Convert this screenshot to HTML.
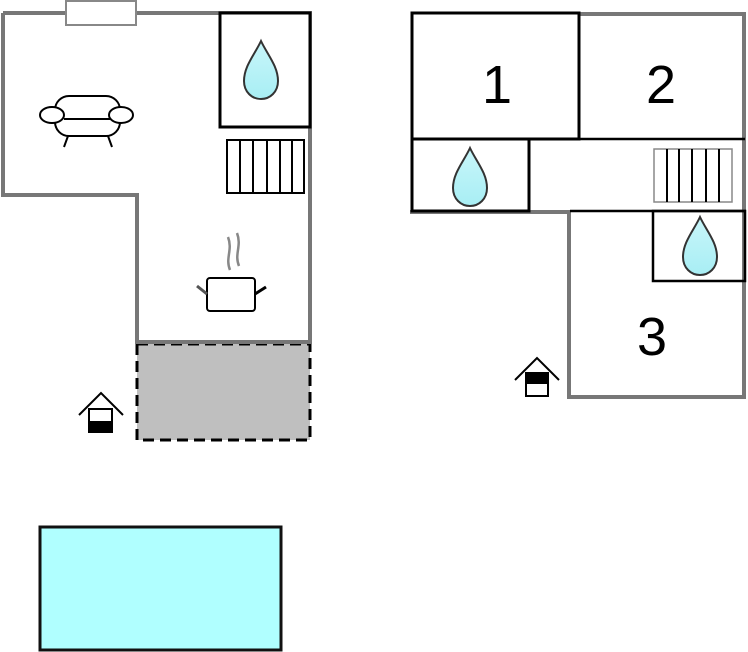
<!DOCTYPE html>
<html><head><meta charset="utf-8"><style>
html,body{margin:0;padding:0;background:#fff;}
svg{display:block;}
text{font-family:"Liberation Sans",sans-serif;}
</style></head><body>
<svg width="748" height="652" viewBox="0 0 748 652" xmlns="http://www.w3.org/2000/svg">
<defs>
<linearGradient id="dg" x1="0" y1="0" x2="0" y2="1"><stop offset="0" stop-color="#c8f6fa"/><stop offset="1" stop-color="#a8eef4"/></linearGradient>
<g id="drop"><path d="M0,-29 C-6,-16 -17,-4 -17,11 C-17,22 -9,29 0,29 C9,29 17,22 17,11 C17,-4 6,-16 0,-29 Z" fill="url(#dg)" stroke="#333" stroke-width="2"/></g>
</defs>
<rect x="137" y="344" width="173" height="96" fill="#bfbfbf" stroke="#000" stroke-width="3" stroke-dasharray="11,6"/>
<g stroke="#777" stroke-width="4" fill="none">
<polyline points="3,13 310,13 310,342 137,342 137,195 3,195 3,13"/>
</g>
<rect x="66" y="1" width="70" height="24" fill="#fff" stroke="#888" stroke-width="2"/>
<rect x="220" y="13" width="90" height="114" fill="#fff" stroke="#000" stroke-width="3"/>
<use href="#drop" x="261" y="70"/>
<g stroke="#000" stroke-width="2" fill="#fff">
<rect x="227" y="140" width="77" height="53"/>
<line x1="240" y1="140" x2="240" y2="193"/><line x1="253" y1="140" x2="253" y2="193"/><line x1="267" y1="140" x2="267" y2="193"/><line x1="280" y1="140" x2="280" y2="193"/><line x1="292" y1="140" x2="292" y2="193"/>
</g>
<g stroke="#000" stroke-width="2" fill="#fff">
<rect x="55" y="96" width="65" height="40" rx="14"/>
<line x1="64" y1="119" x2="110" y2="119"/>
<ellipse cx="52" cy="115" rx="12" ry="8"/>
<ellipse cx="121" cy="115" rx="12" ry="8"/>
<line x1="68" y1="136" x2="64" y2="147"/><line x1="108" y1="136" x2="112" y2="147"/>
</g>
<g fill="none" stroke="#888" stroke-width="2.5">
<path d="M230,270 C225,258 233,250 228,237"/><path d="M239,266 C234,254 242,246 237,233"/>
</g>
<rect x="207" y="278" width="48" height="33" rx="3" fill="#fff" stroke="#000" stroke-width="2"/>
<line x1="197" y1="286" x2="207" y2="294" stroke="#555" stroke-width="3"/>
<line x1="255" y1="294" x2="266" y2="287" stroke="#000" stroke-width="3"/>
<polyline points="79,415 101,393 123,415" fill="none" stroke="#000" stroke-width="2"/>
<rect x="89" y="409" width="23" height="23" fill="#fff" stroke="#000" stroke-width="2"/>
<rect x="89" y="421" width="23" height="11" fill="#000"/>
<rect x="40" y="527" width="241" height="123" fill="#b0ffff" stroke="#111" stroke-width="3"/>

<g stroke="#777" stroke-width="4" fill="none">
<polyline points="579,14 744,14 744,397 569,397 569,212 410,212"/>
</g>
<g stroke="#000" stroke-width="2.5" fill="none">
<rect x="412" y="13" width="167" height="126" stroke-width="3"/>
<line x1="411" y1="139" x2="745" y2="139"/>
<rect x="412" y="139" width="117" height="72" stroke-width="3"/>
<line x1="570" y1="211" x2="746" y2="211"/>
<rect x="653" y="211" width="92" height="70"/>
</g>
<g>
<rect x="654" y="149" width="78" height="53" fill="#fff" stroke="#888" stroke-width="1.5"/>
<g stroke="#000" stroke-width="2"><line x1="667" y1="149" x2="667" y2="202"/><line x1="679" y1="149" x2="679" y2="202"/><line x1="692" y1="149" x2="692" y2="202"/><line x1="706" y1="149" x2="706" y2="202"/><line x1="719" y1="149" x2="719" y2="202"/></g>
</g>
<use href="#drop" x="470" y="177"/>
<use href="#drop" x="700" y="246"/>
<text x="497" y="103" font-size="54" text-anchor="middle" fill="#000">1</text>
<text x="661" y="103" font-size="54" text-anchor="middle" fill="#000">2</text>
<text x="652" y="355" font-size="54" text-anchor="middle" fill="#000">3</text>
<polyline points="515,380 537,358 559,380" fill="none" stroke="#000" stroke-width="2"/>
<rect x="526" y="373" width="22" height="23" fill="#fff" stroke="#000" stroke-width="2"/>
<rect x="526" y="373" width="22" height="11" fill="#000"/>
</svg>
</body></html>
